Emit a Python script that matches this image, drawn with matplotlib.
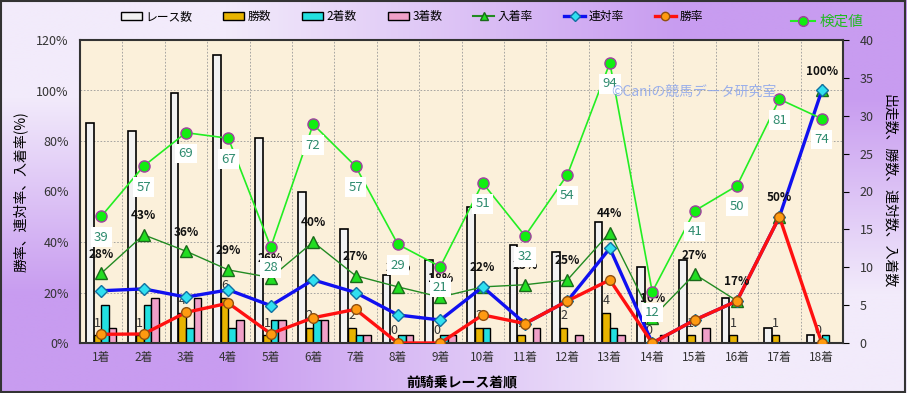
import matplotlib.pyplot as plt
import numpy as np
from matplotlib.patches import Patch, Rectangle
from matplotlib.lines import Line2D

plt.rcParams['font.family'] = ['Noto Sans CJK JP', 'DejaVu Sans']

# データ
labels = ['1着', '2着', '3着', '4着', '5着', '6着', '7着', '8着', '9着',
          '10着', '11着', '12着', '13着', '14着', '15着', '16着', '17着', '18着']
races = [29, 28, 33, 38, 27, 20, 15, 9, 11, 18, 13, 12, 16, 10, 11, 6, 2, 1]
wins = [1, 1, 4, 6, 1, 2, 2, 0, 0, 2, 1, 2, 4, 0, 1, 1, 1, 0]
seconds = [5, 5, 2, 2, 3, 3, 1, 1, 1, 2, 0, 0, 2, 0, 0, 0, 0, 1]
thirds = [2, 6, 6, 3, 3, 3, 1, 1, 1, 0, 2, 1, 1, 1, 2, 0, 0, 0]
kentei = [39, 57, 69, 67, 28, 72, 57, 29, 21, 51, 32, 54, 94, 12, 41, 50, 81, 74]

races_a = np.array(races, dtype=float)
win_rate = np.array(wins) / races_a * 100
ren_rate = (np.array(wins) + np.array(seconds)) / races_a * 100
place_rate = (np.array(wins) + np.array(seconds) + np.array(thirds)) / races_a * 100

x = np.arange(len(labels))

fig = plt.figure(figsize=(9.07, 3.93), dpi=100)

# 背景グラデーション
bg = fig.add_axes([0, 0, 1, 1], zorder=-10)
light = np.array([242, 235, 251]) / 255
purple = np.array([200, 156, 240]) / 255
grad = np.array([[light, purple], [purple, light]])
bg.imshow(grad, aspect='auto', interpolation='bilinear', extent=[0, 1, 0, 1])
bg.set_axis_off()

ax = fig.add_axes([80 / 907, 50 / 393, 763 / 907, 303 / 393])
ax.set_facecolor('#FBF0DA')
ax2 = ax.twinx()
ax3 = ax.twinx()

# 棒グラフ（右軸：件数）
w = 0.18
ax.bar(x - 0.27, races, w, color='#F2F2F2', edgecolor='black', linewidth=1.2, zorder=2)
ax.bar(x - 0.09, wins, w, color='#E8B400', edgecolor='black', linewidth=1.0, zorder=2)
ax.bar(x + 0.09, seconds, w, color='#22E0E0', edgecolor='black', linewidth=1.0, zorder=2)
ax.bar(x + 0.27, thirds, w, color='#F0A0C8', edgecolor='black', linewidth=1.0, zorder=2)

for xi, v in zip(x, wins):
    ax.annotate(str(v), (xi - 0.09, v), xytext=(0, 4), textcoords='offset points',
                ha='center', va='bottom', fontsize=9, color='#333333', zorder=3)

ax.set_xlim(-0.5, len(labels) - 0.5)
ax.set_ylim(0, 40)
ax.yaxis.tick_right()
ax.set_yticks(range(0, 41, 5))
ax.set_yticks(np.arange(0, 40.1, 20 / 3), minor=True)
ax.set_xticks(x)
ax.set_xticklabels(labels)
ax.set_xticks(np.arange(0.5, len(labels) - 0.5, 1), minor=True)
ax.tick_params(axis='x', which='both', length=0, labelsize=8.5, labelcolor='#333333', pad=6)
ax.tick_params(axis='y', which='major', length=4, labelsize=9, labelcolor='#333333', pad=8)
ax.tick_params(axis='y', which='minor', length=0)
ax.grid(which='minor', color='#999999', linestyle=(0, (2, 2)), linewidth=0.6)
ax.set_axisbelow(True)
for s in ax.spines.values():
    s.set_linewidth(1.5)
    s.set_color('#333333')
ax.yaxis.set_label_position('right')
ax.set_ylabel('出走数、勝数、連対数、入着数', fontsize=10, rotation=270, labelpad=16)
ax.set_xlabel('前騎乗レース着順', fontsize=10, fontweight='bold', labelpad=8)

# 折れ線（左軸：率）
ax2.patch.set_visible(False)
ax2.yaxis.tick_left()
ax2.yaxis.set_label_position('left')
ax2.set_ylim(0, 120)
ax2.set_yticks(range(0, 121, 20))
ax2.set_yticklabels([f'{v}%' for v in range(0, 121, 20)])
ax2.tick_params(axis='y', length=0, labelsize=9, labelcolor='#333333', pad=8)
ax2.set_ylabel('勝率、連対率、入着率(%)', fontsize=10, labelpad=6)
for s in ax2.spines.values():
    s.set_visible(False)

ax2.plot(x, place_rate, color='#228B22', linewidth=1.0, marker='^', markersize=8,
         markerfacecolor='#22DD22', markeredgecolor='#1A6A1A', zorder=3)
ax2.plot(x, ren_rate, color='#1010F0', linewidth=2.4, marker='D', markersize=6.5,
         markerfacecolor='#30E0F0', markeredgecolor='#1070A0', zorder=4)
ax2.plot(x, win_rate, color='#FF1010', linewidth=2.4, marker='o', markersize=7,
         markerfacecolor='#FF9A10', markeredgecolor='#905010', zorder=5)

for xi, v in zip(x, place_rate):
    ax2.annotate(f'{v:.0f}%', (xi, v), xytext=(0, 9), textcoords='offset points',
                 ha='center', va='bottom', fontsize=8.5, fontweight='bold', color='#111111', zorder=6)

# 検定値
ax3.patch.set_visible(False)
ax3.set_ylim(-6.33, 102.2)
ax3.set_yticks([])
for s in ax3.spines.values():
    s.set_visible(False)
ax3.plot(x, kentei, color='#22EE22', linewidth=1.2, marker='o', markersize=8,
         markerfacecolor='#11EE11', markeredgecolor='#A040A0', zorder=6)
for xi, v in zip(x, kentei):
    ax3.annotate(str(v), (xi, v), xytext=(0, -15), textcoords='offset points',
                 ha='center', va='center', fontsize=9.5, color='#2E8B6E', zorder=7,
                 bbox=dict(boxstyle='square,pad=0.25', facecolor='white', edgecolor='none'))

ax3.text(0.805, 0.83, '©Caniの競馬データ研究室', transform=ax3.transAxes, ha='center',
         va='center', fontsize=10, color='#8AA4EC', alpha=0.85, zorder=8)

# 凡例
handles = [
    Patch(facecolor='#F2F2F2', edgecolor='black', label='レース数'),
    Patch(facecolor='#E8B400', edgecolor='black', label='勝数'),
    Patch(facecolor='#22E0E0', edgecolor='black', label='2着数'),
    Patch(facecolor='#F0A0C8', edgecolor='black', label='3着数'),
    Line2D([], [], color='#228B22', marker='^', markerfacecolor='#22DD22',
           markeredgecolor='#1A6A1A', markersize=6, label='入着率'),
    Line2D([], [], color='#1010F0', linewidth=2.4, marker='D', markerfacecolor='#30E0F0',
           markeredgecolor='#1070A0', markersize=5, label='連対率'),
    Line2D([], [], color='#FF1010', linewidth=2.4, marker='o', markerfacecolor='#FF9A10',
           markeredgecolor='#905010', markersize=6, label='勝率'),
]
fig.legend(handles=handles, loc='center', bbox_to_anchor=(0.454, 0.958), ncol=7,
           frameon=False, fontsize=8.5, handlelength=1.8, handleheight=0.6,
           handletextpad=0.3, columnspacing=2.6)
leg2 = fig.legend(handles=[Line2D([], [], color='#22EE22', marker='o', markerfacecolor='#11EE11',
                                  markeredgecolor='#A040A0', markersize=7, label='検定値')],
                  loc='center', bbox_to_anchor=(0.912, 0.944), frameon=False, fontsize=10.5,
                  handlelength=1.6, handletextpad=0.3)
for t in leg2.get_texts():
    t.set_color('#22BB22')

fig.patches.append(Rectangle((0.001, 0.002), 0.997, 0.995, transform=fig.transFigure,
                             fill=False, edgecolor='#333333', linewidth=1.5))

plt.savefig('out.png', dpi=100)
